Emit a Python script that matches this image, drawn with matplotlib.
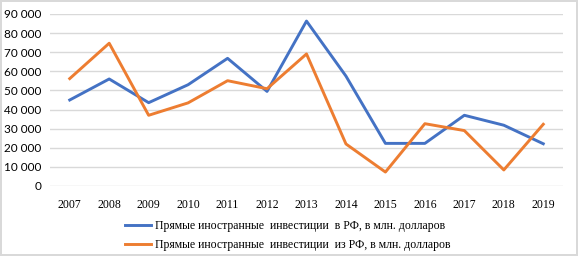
import matplotlib.pyplot as plt
import numpy as np

years = ['2007', '2008', '2009', '2010', '2011', '2012', '2013',
         '2014', '2015', '2016', '2017', '2018', '2019']
fdi_in = [45000, 56000, 43600, 53000, 66800, 49500, 86300,
          57500, 22300, 22300, 37000, 31800, 22100]
fdi_out = [56200, 74700, 37000, 43500, 55100, 50900, 69100,
           22000, 7300, 32600, 29000, 8400, 32300]
labels = ['Прямые иностранные  инвестиции  в РФ, в млн. долларов',
          'Прямые иностранные  инвестиции  из РФ, в млн. долларов']

fig = plt.figure(figsize=(5.78, 2.56), dpi=100)
fig.patch.set_edgecolor('#d9d9d9')
fig.patch.set_linewidth(1.5)
ax = fig.add_axes([50 / 578, 1 - 186 / 256, 513 / 578, 172 / 256])

x = np.arange(len(years))
ax.plot(x, fdi_in, color='#4472C4', lw=2.1, label=labels[0])
ax.plot(x, fdi_out, color='#ED7D31', lw=2.1, label=labels[1])

ax.set_xlim(-0.5, len(years) - 0.5)
ax.set_ylim(0, 90000)
ax.set_yticks(np.arange(0, 90001, 10000))
ax.set_yticklabels([f'{v:,}'.replace(',', ' ') for v in range(0, 90001, 10000)],
                   fontfamily='Lato', fontsize=8.5)
ax.set_xticks(x)
ax.set_xticklabels(years, fontfamily='Liberation Serif', fontsize=8.5)
ax.tick_params(length=0, pad=6)
ax.tick_params(axis='x', pad=9)
ax.grid(axis='y', color='#d9d9d9', lw=1)
ax.set_axisbelow(True)
for s in ax.spines.values():
    s.set_visible(False)

fig.legend(loc='upper center', bbox_to_anchor=(288 / 578, 1 - 214 / 256),
           frameon=False, prop={'family': 'Liberation Serif', 'size': 8.5},
           handlelength=2.2, handletextpad=0.3, labelspacing=0.6,
           borderpad=0)

fig.savefig('out.png', dpi=100)
